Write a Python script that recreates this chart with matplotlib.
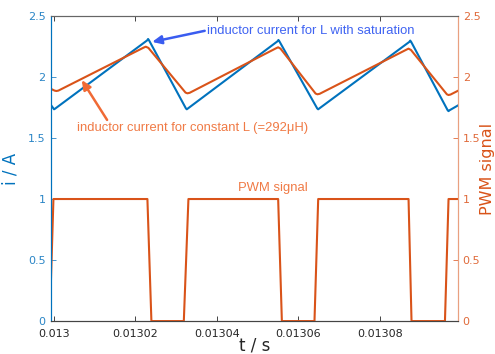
import matplotlib
matplotlib.use("Agg")
import matplotlib.pyplot as plt

# ---- data ----
t_sat = [0.01299899, 0.01299990, 0.01300005, 0.01300030, 0.01302290, 0.01302312,
         0.01302335, 0.01303240, 0.01303261, 0.01303285, 0.01305485, 0.01305509,
         0.01305532, 0.01306460, 0.01306483, 0.01306507, 0.01308718, 0.01308741,
         0.01308765, 0.01309660, 0.01309681, 0.01309705, 0.01309919]
i_sat = [1.784, 1.742, 1.735, 1.740, 2.300, 2.311,
         2.300, 1.742, 1.735, 1.741, 2.292, 2.303,
         2.292, 1.742, 1.735, 1.741, 2.287, 2.298,
         2.287, 1.727, 1.720, 1.727, 1.768]

t_const = [0.01299899, 0.01300020, 0.01300061, 0.01300110, 0.01302200, 0.01302255,
           0.01302320, 0.01303230, 0.01303276, 0.01303330, 0.01305450, 0.01305502,
           0.01305560, 0.01306420, 0.01306466, 0.01306520, 0.01308650, 0.01308699,
           0.01308760, 0.01309640, 0.01309681, 0.01309730, 0.01309919]
i_const = [1.907, 1.888, 1.885, 1.888, 2.240, 2.248,
           2.238, 1.872, 1.866, 1.870, 2.235, 2.243,
           2.232, 1.864, 1.858, 1.862, 2.224, 2.232,
           2.221, 1.858, 1.852, 1.856, 1.888]

t_pwm = [0.01299899, 0.01299990, 0.01302295, 0.01302393, 0.01303188, 0.01303301,
         0.01305502, 0.01305593, 0.01306393, 0.01306484, 0.01308700, 0.01308773,
         0.01309593, 0.01309681, 0.01309919]
pwm = [0, 1, 1, 0, 0, 1, 1, 0, 0, 1, 1, 0, 0, 1, 1]

x_ticks = [0.013, 0.01302, 0.01304, 0.01306, 0.01308]
x_ticklabels = ["0.013", "0.01302", "0.01304", "0.01306", "0.01308"]
y_ticks = [0, 0.5, 1, 1.5, 2, 2.5]
y_ticklabels = ["0", "0.5", "1", "1.5", "2", "2.5"]

BLUE = "#0072BD"
ORANGE = "#D95319"

fig = plt.figure(figsize=(4.95, 3.54), dpi=100)
ax = fig.add_axes([0.103, 0.093, 0.822, 0.862])
ax2 = ax.twinx()

ax.plot(t_sat, i_sat, color=BLUE, lw=1.5)
ax.plot(t_const, i_const, color=ORANGE, lw=1.5)
ax2.plot(t_pwm, pwm, color=ORANGE, lw=1.5)

xlim = (0.0129993, 0.0130991)
for a in (ax, ax2):
    a.set_xlim(*xlim)
    a.set_ylim(0, 2.5)

ax.set_xticks(x_ticks)
ax.set_xticklabels(x_ticklabels)
ax.set_yticks(y_ticks)
ax.set_yticklabels(y_ticklabels)
ax2.set_yticks(y_ticks)
ax2.set_yticklabels(y_ticklabels)

ax.tick_params(axis="x", direction="in", top=True, labelsize=8, colors="#262626",
               length=3.5, width=0.6, pad=6)
ax.tick_params(axis="y", direction="in", labelsize=8, colors="#2A85C6",
               length=3.5, width=0.6, pad=4)
ax2.tick_params(axis="y", direction="in", labelsize=8, colors="#E06A3A",
                length=3.5, width=0.6)

for a in (ax, ax2):
    a.spines["top"].set_color("#666666")
    a.spines["bottom"].set_color("#444444")
    a.spines["left"].set_color(BLUE)
    a.spines["right"].set_color("#E9A080")
    for s in a.spines.values():
        s.set_linewidth(0.8)

ax.set_xlabel("t / s", fontsize=12, color="#262626", labelpad=-2)
ax.set_ylabel("i / A", fontsize=12, color=BLUE, labelpad=6)
ax2.set_ylabel("PWM signal", fontsize=11.5, color=ORANGE, va="center")
ax2.yaxis.set_label_coords(1.072, 0.5)

# annotations
arrow_kw = dict(arrowstyle="-|>,head_length=0.55,head_width=0.25",
                lw=1.8, shrinkA=0, shrinkB=0)
ax.text(0.0130375, 2.378, "inductor current for L with saturation",
        color="#3F63F2", fontsize=9.4, family="Liberation Sans",
        va="center", ha="left")
ax.annotate("", xy=(0.0130241, 2.287), xytext=(0.0130370, 2.378),
            arrowprops=dict(color="#3A5CF0", **arrow_kw))

ax.text(0.01300565, 1.582, "inductor current for constant L (=292μH)",
        color="#F07A45", fontsize=9.4, family="Liberation Sans",
        va="center", ha="left")
ax.annotate("", xy=(0.01300685, 1.975), xytext=(0.01301306, 1.648),
            arrowprops=dict(color="#F06A35", **arrow_kw))

ax.text(0.01305383, 1.09, "PWM signal", color="#F07A45", fontsize=9.4,
        family="Liberation Sans", va="center", ha="center")

fig.savefig("out.png", dpi=100)
